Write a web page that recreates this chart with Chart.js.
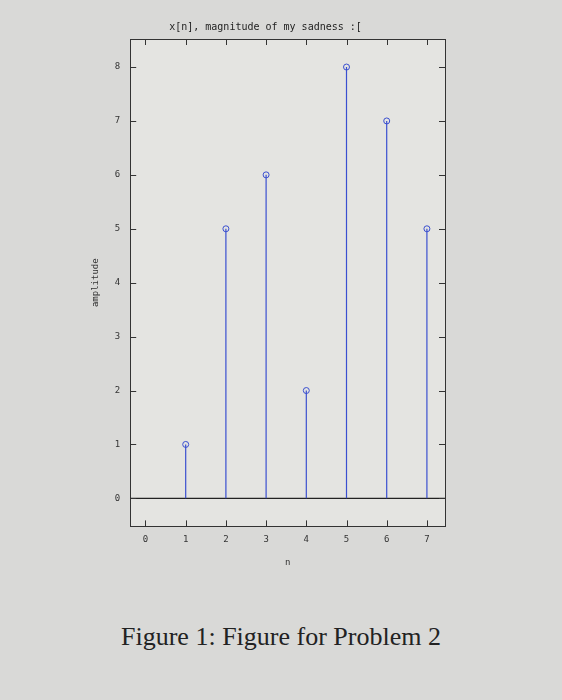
<!DOCTYPE html>
<html>
<head>
<meta charset="utf-8">
<script src="https://cdn.jsdelivr.net/npm/chart.js@4"></script>
<style>
  body { margin: 0; background: #d9d9d7; width: 562px; height: 700px; overflow: hidden; position: relative; }
  #wrap { position: absolute; left: 86px; top: 21px; width: 363px; height: 551px; }
  #caption { position: absolute; left: 0; width: 562px; top: 622px; text-align: center;
    font-family: "Liberation Serif", serif; font-size: 26px; color: #222; }
</style>
</head>
<body>
<div id="wrap"><canvas id="myChart"></canvas></div>
<div id="caption">Figure 1: Figure for Problem 2</div>
<script>
var nValues = [1, 2, 3, 4, 5, 6, 7];
var amplitudes = [1, 5, 6, 2, 8, 7, 5];
var xTicks = [0, 1, 2, 3, 4, 5, 6, 7];
var yTicks = [0, 1, 2, 3, 4, 5, 6, 7, 8];

// plot background and inward tick marks on all four sides
var frame = {
    id: 'frame',
    beforeDraw: function(chart) {
        var a = chart.chartArea, c = chart.ctx;
        c.save();
        c.fillStyle = '#e4e4e1';
        c.fillRect(a.left, a.top, a.right - a.left, a.bottom - a.top);
        c.restore();
    },
    afterDraw: function(chart) {
        var a = chart.chartArea, c = chart.ctx, sx = chart.scales.x, sy = chart.scales.y;
        c.save();
        c.strokeStyle = '#333';
        c.lineWidth = 1;
        c.beginPath();
        xTicks.forEach(function(v) {
            var px = Math.round(sx.getPixelForValue(v)) + 0.5;
            c.moveTo(px, a.bottom); c.lineTo(px, a.bottom - 6);
            c.moveTo(px, a.top); c.lineTo(px, a.top + 6);
        });
        yTicks.forEach(function(v) {
            var py = Math.round(sy.getPixelForValue(v)) + 0.5;
            c.moveTo(a.left, py); c.lineTo(a.left + 6, py);
            c.moveTo(a.right, py); c.lineTo(a.right - 6, py);
        });
        c.stroke();
        c.restore();
    }
};

document.addEventListener('DOMContentLoaded', function() {
    var stems = [];
    nValues.forEach(function(n, i) {
        stems.push({x: n, y: 0}, {x: n, y: amplitudes[i]}, {x: n, y: NaN});
    });
    var ctx = document.getElementById('myChart').getContext('2d');
    var font = { family: 'DejaVu Sans Mono', size: 9 };
    var setX = function(s) { s.ticks = xTicks.map(function(v) { return {value: v}; }); };
    var setY = function(s) { s.ticks = yTicks.map(function(v) { return {value: v}; }); };

    new Chart(ctx, {
        type: 'scatter',
        data: {
            datasets: [{
                data: stems,
                showLine: true,
                spanGaps: false,
                borderColor: '#3a4fd0',
                borderWidth: 1.2,
                pointRadius: function(c) { return c.dataIndex % 3 === 1 ? 3 : 0; },
                pointBorderColor: '#3a4fd0',
                pointBackgroundColor: 'rgba(0,0,0,0)',
                pointBorderWidth: 1
            }, {
                data: [{x: -0.38, y: 0}, {x: 7.45, y: 0}],
                showLine: true,
                borderColor: '#222',
                borderWidth: 1.2,
                pointRadius: 0
            }]
        },
        plugins: [frame],
        options: {
            responsive: true,
            maintainAspectRatio: false,
            animation: false,
            layout: { padding: { right: 4 } },
            plugins: {
                legend: { display: false },
                tooltip: { enabled: false },
                title: { display: true, text: 'x[n], magnitude of my sadness :[', color: '#222',
                         font: { family: 'DejaVu Sans Mono', size: 10, weight: 'normal' }, padding: {top: 0, bottom: 6} }
            },
            scales: {
                x: {
                    min: -0.38, max: 7.45,
                    afterBuildTicks: setX,
                    grid: { drawOnChartArea: false, drawTicks: false },
                    border: { color: '#333' },
                    ticks: { color: '#333', font: font, padding: 8 },
                    title: { display: true, text: 'n', color: '#333', font: font }
                },
                x2: {
                    position: 'top',
                    min: -0.38, max: 7.45,
                    grid: { drawOnChartArea: false, drawTicks: false },
                    border: { color: '#333' },
                    ticks: { display: false }
                },
                y: {
                    min: -0.52, max: 8.52,
                    afterBuildTicks: setY,
                    grid: { drawOnChartArea: false, drawTicks: false },
                    border: { color: '#333' },
                    ticks: { color: '#333', font: font, padding: 10 },
                    title: { display: true, text: 'amplitude', color: '#333', font: font }
                },
                y2: {
                    position: 'right',
                    min: -0.52, max: 8.52,
                    grid: { drawOnChartArea: false, drawTicks: false },
                    border: { color: '#333' },
                    ticks: { display: false }
                }
            }
        }
    });
});
</script>
</body>
</html>
